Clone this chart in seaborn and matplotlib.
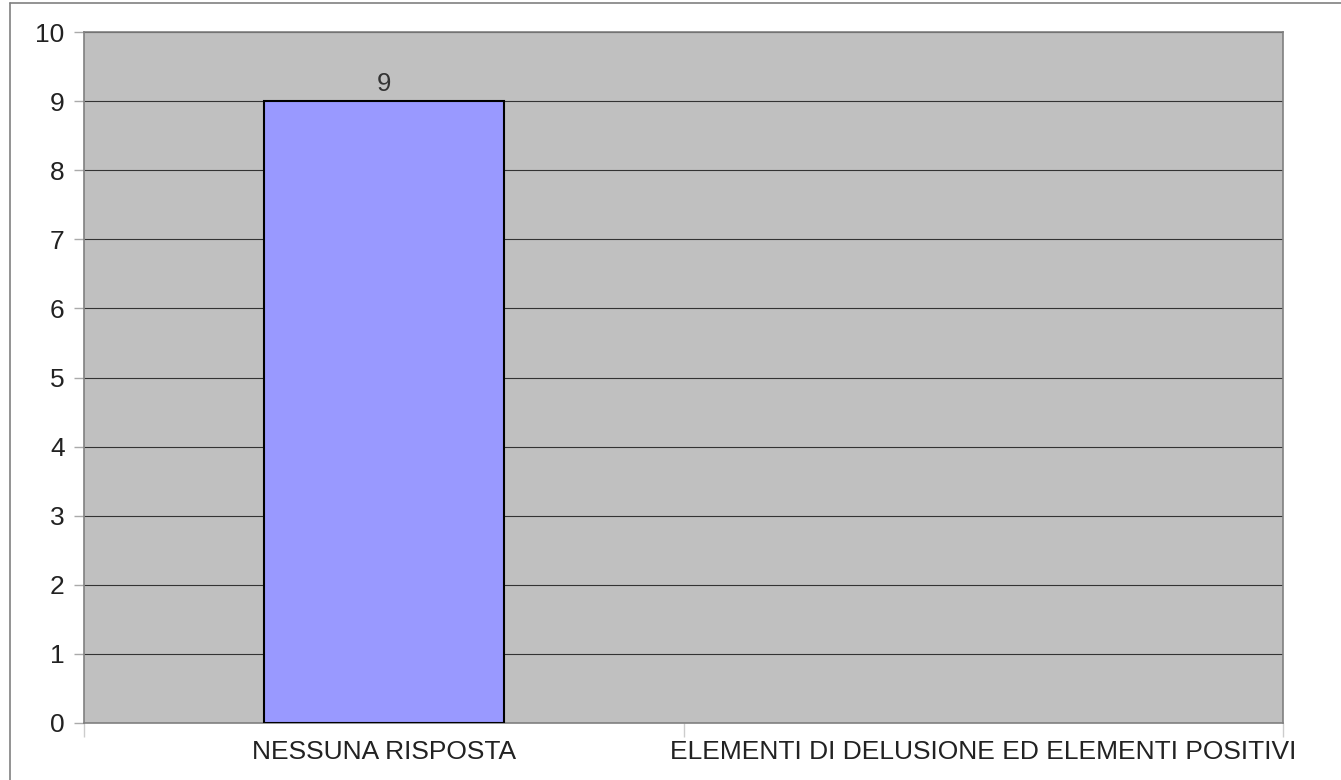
import matplotlib
matplotlib.use("Agg")
import matplotlib.pyplot as plt
import seaborn as sns
import pandas as pd
from matplotlib.lines import Line2D

categories = ["NESSUNA RISPOSTA", "ELEMENTI DI DELUSIONE ED ELEMENTI POSITIVI"]
values = [9, 0]
yticks = list(range(0, 11))

sns.set_theme(style="white")
plt.rcParams['font.family'] = ['Liberation Sans', 'DejaVu Sans']

df = pd.DataFrame({"cat": categories, "val": values})

fig = plt.figure(figsize=(13.41, 7.80), dpi=100)
ax = fig.add_axes([84/1341, 57/780, (1283-84)/1341, (723-32)/780])
ax.set_facecolor("#C0C0C0")

sns.barplot(data=df, x="cat", y="val", ax=ax, color="#9999FF", saturation=1,
            width=0.4, edgecolor="black", linewidth=1.5, zorder=3)

for p, v in zip(ax.patches, values):
    if v > 0:
        ax.annotate(str(v), (p.get_x() + p.get_width()/2, v), xytext=(0, 4),
                    textcoords="offset points", ha="center", va="bottom",
                    fontsize=18.5, color="#333333")
    else:
        p.set_linewidth(0)

ax.set_ylim(0, 10)
ax.set_xlim(-0.5, len(categories) - 0.5)
ax.set_yticks(yticks)
ax.yaxis.grid(True, color="#333333", linewidth=0.8, zorder=0)
ax.set_axisbelow(True)
ax.set_xlabel("")
ax.set_ylabel("")
ax.tick_params(axis="y", length=7, width=1, color="#AAAAAA", labelsize=19,
               labelcolor="#222222", pad=7, left=True)
ax.tick_params(axis="x", which="major", length=0, labelsize=19,
               labelcolor="#222222", pad=12)
ax.set_xticks([i - 0.5 for i in range(len(categories) + 1)], minor=True)
ax.tick_params(axis="x", which="minor", length=10, width=1, color="#CCCCCC",
               bottom=True)
for s in ax.spines.values():
    s.set_color("#808080")
    s.set_linewidth(1.2)

# outer frame
fig.add_artist(Line2D([10/1341, 10/1341], [0, 1 - 3/780], transform=fig.transFigure,
                      color="#808080", linewidth=1.2))
fig.add_artist(Line2D([10/1341, 1], [1 - 3/780, 1 - 3/780], transform=fig.transFigure,
                      color="#808080", linewidth=1.2))

fig.savefig("out.png", dpi=100)
